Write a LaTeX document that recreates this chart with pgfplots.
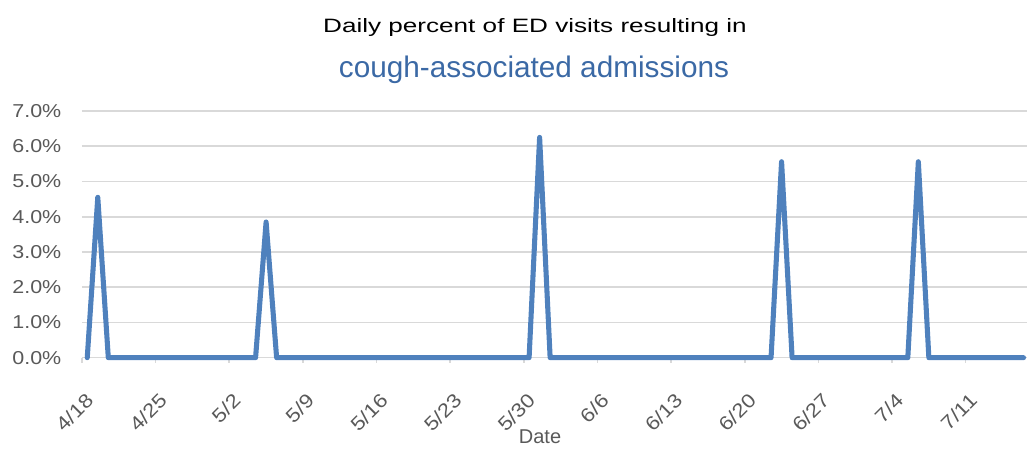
\documentclass[border=0pt]{standalone}
\usepackage{pgfplots}
\pgfplotsset{compat=1.18}
\usepackage{fontspec}
\setmainfont{Liberation Sans}
\newfontfamily\tickfont[FakeStretch=1.15]{Liberation Sans}
\newfontfamily\titlefont[FakeStretch=1.35]{Liberation Sans}
\definecolor{lineblue}{HTML}{4F81BD}
\definecolor{titleblue}{HTML}{3B69A5}
\definecolor{txtgray}{HTML}{595959}
\definecolor{gridgray}{HTML}{D9D9D9}
\begin{document}
\begin{tikzpicture}[x=0.75pt,y=0.75pt]
\useasboundingbox (0,0) rectangle (1027,449);
\begin{axis}[
  at={(61.5pt,68.5pt)}, anchor=south west,
  scale only axis, width=708.75pt, height=185pt,
  xmin=-0.5, xmax=89.33, ymin=0, ymax=7,
  clip=false,
  axis x line*=bottom, axis y line*=left,
  x axis line style={gridgray, line width=1.2pt, -},
  y axis line style={draw=none},
  ymajorgrids, major grid style={gridgray, line width=1.2pt},
  ytick={0,1,...,7},
  yticklabels={0.0\%,1.0\%,2.0\%,3.0\%,4.0\%,5.0\%,6.0\%,7.0\%},
  ytick style={draw=none},
  yticklabel style={font=\tickfont\fontsize{14}{16}\selectfont, text=txtgray, xshift=-8pt},
  xtick={-0.5,6.5,...,83.5},
  xticklabels={4/18,4/25,5/2,5/9,5/16,5/23,5/30,6/6,6/13,6/20,6/27,7/4,7/11},
  tick align=outside, major tick length=4pt,
  xtick style={gridgray, line width=1.2pt},
  xticklabel style={font=\tickfont\fontsize{14.5}{16}\selectfont, text=txtgray, xshift=2pt, yshift=-17pt, rotate=45, anchor=north east},
]
\addplot[lineblue, line width=3.8pt, line join=round, line cap=round] coordinates {
(0,0)(1,4.55)(2,0)(3,0)(4,0)(5,0)(6,0)(7,0)(8,0)(9,0)
(10,0)(11,0)(12,0)(13,0)(14,0)(15,0)(16,0)(17,3.85)(18,0)(19,0)
(20,0)(21,0)(22,0)(23,0)(24,0)(25,0)(26,0)(27,0)(28,0)(29,0)
(30,0)(31,0)(32,0)(33,0)(34,0)(35,0)(36,0)(37,0)(38,0)(39,0)
(40,0)(41,0)(42,0)(43,6.25)(44,0)(45,0)(46,0)(47,0)(48,0)(49,0)
(50,0)(51,0)(52,0)(53,0)(54,0)(55,0)(56,0)(57,0)(58,0)(59,0)
(60,0)(61,0)(62,0)(63,0)(64,0)(65,0)(66,5.56)(67,0)(68,0)(69,0)
(70,0)(71,0)(72,0)(73,0)(74,0)(75,0)(76,0)(77,0)(78,0)(79,5.56)
(80,0)(81,0)(82,0)(83,0)(84,0)(85,0)(86,0)(87,0)(88,0)(89,0)
};
\end{axis}
\node[font=\titlefont\fontsize{14.5}{16}\selectfont, text=black] at (535,421) {Daily percent of ED visits resulting in};
\node[font=\fontsize{22.3}{25}\selectfont, text=titleblue] at (534,379) {cough-associated admissions};
\node[font=\fontsize{15}{17}\selectfont, text=txtgray] at (540,12) {Date};
\end{tikzpicture}
\end{document}
